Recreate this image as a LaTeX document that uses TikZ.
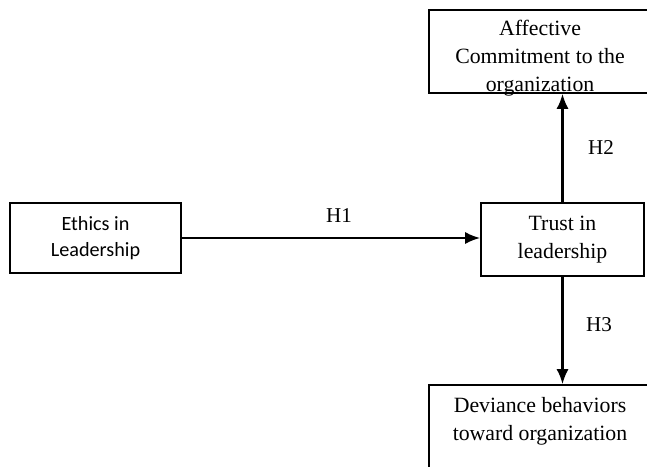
\documentclass[tikz,border=0pt]{standalone}
\usepackage{fontspec}
\setmainfont{Liberation Serif}
\newfontfamily\calibrifont{Carlito}
\usetikzlibrary{arrows.meta}

\begin{document}
\begin{tikzpicture}[
  box/.style={draw, line width=0.9pt, inner sep=0pt},
  serifbox/.style={align=center, font=\fontsize{12.4}{16}\selectfont},
  link/.style={-{Latex[length=3mm,width=2.4mm]}, line width=1.3pt},
  hyp/.style={font=\fontsize{12}{14}\selectfont}
]

\useasboundingbox (0,0) rectangle (12.94,9.32);

%% Boxes %%
% left %
\node[box, minimum width=3.42cm, minimum height=1.4cm, align=center,
  font=\calibrifont\fontsize{11.5}{14.8}\selectfont] (ethics) at (1.91,4.56)
  {Ethics in\\Leadership};

% middle %
\node[box, serifbox, minimum width=3.26cm, minimum height=1.46cm] (trust) at (11.25,4.53)
  {Trust in\\leadership};

% top %
\node[box, minimum width=4.52cm, minimum height=1.66cm] (affective) at (10.84,8.29) {};
\node[serifbox] (afftext) at (10.8,8.16) {Affective\\Commitment to the\\organization};

% bottom %
\node[box, minimum width=4.52cm, minimum height=2.02cm] (deviance) at (10.84,0.61) {};
\node[serifbox] (devtext) at (10.8,0.89) {Deviance behaviors\\toward organization};

%% Connection arrows %%
\draw[link] (ethics.east) -- (ethics.east -| trust.west);
\draw[link] (trust.north) -- (trust.north |- affective.south);
\draw[link] (trust.south) -- (trust.south |- deviance.north);

%% Hypotheses %%
\node[hyp] (hone) at (6.78,5.0) {H1};
\node[hyp] (htwo) at (12.02,6.36) {H2};
\node[hyp] (hthree) at (11.98,2.82) {H3};

\end{tikzpicture}
\end{document}
